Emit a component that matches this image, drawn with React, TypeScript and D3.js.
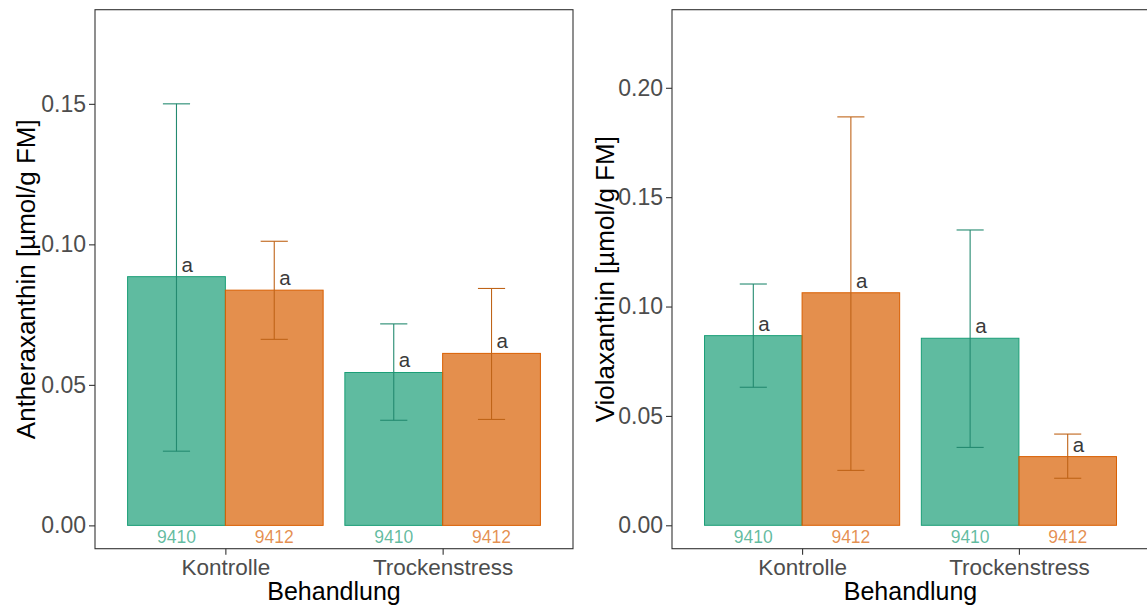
import React, { useEffect, useRef } from 'react'
import * as d3 from 'd3'

const groups = ['Kontrolle', 'Trockenstress']
const genotypes = ['9410', '9412']
const genoColors = ['#1B9E77', '#D95F02']
const errColors = ['#248A70', '#BF6418']

// Antheraxanthin (Kontrolle, Trockenstress)
const anthMean9410 = [0.0885, 0.0544]
const anthLow9410 = [0.0264, 0.0374]
const anthHigh9410 = [0.15, 0.0717]
const anthMean9412 = [0.0837, 0.0612]
const anthLow9412 = [0.0662, 0.0377]
const anthHigh9412 = [0.1011, 0.0843]
const anthLetters9410 = ['a', 'a']
const anthLetters9412 = ['a', 'a']
const anthTicks = [0, 0.05, 0.1, 0.15]

// Violaxanthin (Kontrolle, Trockenstress)
const violaMean9410 = [0.0867, 0.0855]
const violaLow9410 = [0.0631, 0.0356]
const violaHigh9410 = [0.1103, 0.135]
const violaMean9412 = [0.1063, 0.0314]
const violaLow9412 = [0.0251, 0.0215]
const violaHigh9412 = [0.1867, 0.0417]
const violaLetters9410 = ['a', 'a']
const violaLetters9412 = ['a', 'a']
const violaTicks = [0, 0.05, 0.1, 0.15, 0.2]

const FONT = 'Liberation Sans, Arial, sans-serif'
const plotTop = 9.7
const plotBottom = 548.7

type Series = { mean: number[]; low: number[]; high: number[]; letters: string[] }
type Panel = {
  title: string
  ticks: number[]
  domain: [number, number]
  left: number
  right: number
  titleX: number
  series: Series[]
}

const panels: Panel[] = [
  {
    title: 'Antheraxanthin [µmol/g FM]',
    ticks: anthTicks,
    domain: [-0.0083, 0.1835],
    left: 95,
    right: 573,
    titleX: 35,
    series: [
      { mean: anthMean9410, low: anthLow9410, high: anthHigh9410, letters: anthLetters9410 },
      { mean: anthMean9412, low: anthLow9412, high: anthHigh9412, letters: anthLetters9412 },
    ],
  },
  {
    title: 'Violaxanthin [µmol/g FM]',
    ticks: violaTicks,
    domain: [-0.0107, 0.2357],
    left: 672,
    right: 1149,
    titleX: 614,
    series: [
      { mean: violaMean9410, low: violaLow9410, high: violaHigh9410, letters: violaLetters9410 },
      { mean: violaMean9412, low: violaLow9412, high: violaHigh9412, letters: violaLetters9412 },
    ],
  },
]

function drawPanel(svg: any, p: Panel) {
  const y = d3.scaleLinear().domain(p.domain).range([plotBottom, plotTop])
  const x = d3.scalePoint<string>().domain(groups).range([p.left, p.right]).padding(0.6)
  const step = x.step()
  const inner = d3.scaleBand<string>().domain(genotypes).range([-0.45 * step, 0.45 * step])
  const capHalf = step * 0.0625

  const rows: any[] = []
  p.series.forEach((s, gi) => {
    groups.forEach((grp, ci) => {
      rows.push({
        group: grp,
        geno: genotypes[gi],
        color: genoColors[gi],
        errColor: errColors[gi],
        mean: s.mean[ci],
        low: s.low[ci],
        high: s.high[ci],
        letter: s.letters[ci],
      })
    })
  })
  const cx = (d: any) => (x(d.group) as number) + (inner(d.geno) as number) + inner.bandwidth() / 2

  const g = svg.append('g')

  g.append('g')
    .selectAll('rect')
    .data(rows)
    .join('rect')
    .attr('x', (d: any) => (x(d.group) as number) + (inner(d.geno) as number))
    .attr('width', inner.bandwidth())
    .attr('y', (d: any) => y(d.mean))
    .attr('height', (d: any) => y(0) - y(d.mean))
    .attr('fill', (d: any) => d.color)
    .attr('fill-opacity', 0.7)
    .attr('stroke', (d: any) => d.color)
    .attr('stroke-width', 1)

  // error bars
  const eb = g.append('g').selectAll('g').data(rows).join('g')
    .attr('stroke', (d: any) => d.errColor)
    .attr('stroke-width', 1.1)
  eb.append('line')
    .attr('x1', cx).attr('x2', cx)
    .attr('y1', (d: any) => y(d.low)).attr('y2', (d: any) => y(d.high))
  eb.append('line')
    .attr('x1', (d: any) => cx(d) - capHalf).attr('x2', (d: any) => cx(d) + capHalf)
    .attr('y1', (d: any) => y(d.high)).attr('y2', (d: any) => y(d.high))
  eb.append('line')
    .attr('x1', (d: any) => cx(d) - capHalf).attr('x2', (d: any) => cx(d) + capHalf)
    .attr('y1', (d: any) => y(d.low)).attr('y2', (d: any) => y(d.low))

  // significance letters
  g.append('g')
    .attr('font-family', FONT)
    .attr('font-size', 20.5)
    .attr('fill', '#3A3A3A')
    .selectAll('text')
    .data(rows)
    .join('text')
    .attr('x', (d: any) => cx(d) + 5)
    .attr('y', (d: any) => y(d.mean) - 5)
    .text((d: any) => d.letter)

  // genotype labels under bars
  g.append('g')
    .attr('font-family', FONT)
    .attr('font-size', 17.5)
    .attr('text-anchor', 'middle')
    .selectAll('text')
    .data(rows)
    .join('text')
    .attr('x', cx)
    .attr('y', y(0) + 18)
    .attr('fill', (d: any) => d.color)
    .attr('fill-opacity', 0.7)
    .text((d: any) => d.geno)

  // panel border
  g.append('rect')
    .attr('x', p.left)
    .attr('y', plotTop)
    .attr('width', p.right - p.left)
    .attr('height', plotBottom - plotTop)
    .attr('fill', 'none')
    .attr('stroke', '#333333')
    .attr('stroke-width', 1.1)

  const yAxis = g.append('g')
    .attr('transform', `translate(${p.left},0)`)
    .call(d3.axisLeft(y).tickValues(p.ticks).tickFormat(d3.format('.2f')).tickSize(6).tickPadding(3))
  yAxis.select('.domain').remove()
  yAxis.selectAll('line').attr('stroke', '#333333').attr('stroke-width', 1.1)
  yAxis.selectAll('text')
    .attr('font-family', FONT)
    .attr('font-size', 23)
    .attr('fill', '#4D4D4D')

  const xAxis = g.append('g')
    .attr('transform', `translate(0,${plotBottom})`)
    .call(d3.axisBottom(x).tickSize(6).tickPadding(4))
  xAxis.select('.domain').remove()
  xAxis.selectAll('line').attr('stroke', '#333333').attr('stroke-width', 1.1)
  xAxis.selectAll('text')
    .attr('font-family', FONT)
    .attr('font-size', 22.5)
    .attr('fill', '#4D4D4D')

  g.append('text')
    .attr('x', (p.left + p.right) / 2)
    .attr('y', 600)
    .attr('text-anchor', 'middle')
    .attr('font-family', FONT)
    .attr('font-size', 25)
    .attr('fill', '#000')
    .text('Behandlung')

  g.append('text')
    .attr('transform', `translate(${p.titleX},${(plotTop + plotBottom) / 2}) rotate(-90)`)
    .attr('text-anchor', 'middle')
    .attr('font-family', FONT)
    .attr('font-size', 26)
    .attr('fill', '#000')
    .text(p.title)
}

export default function App() {
  const ref = useRef<SVGSVGElement | null>(null)

  useEffect(() => {
    const svg = d3.select(ref.current)
    svg.selectAll('*').remove()
    svg.append('rect').attr('width', 1147).attr('height', 609).attr('fill', '#fff')
    panels.forEach(p => drawPanel(svg, p))
  }, [])

  return (
    <svg
      ref={ref}
      width={1147}
      height={609}
      style={{ position: 'absolute', left: 0, top: 0, display: 'block' }}
    />
  )
}
